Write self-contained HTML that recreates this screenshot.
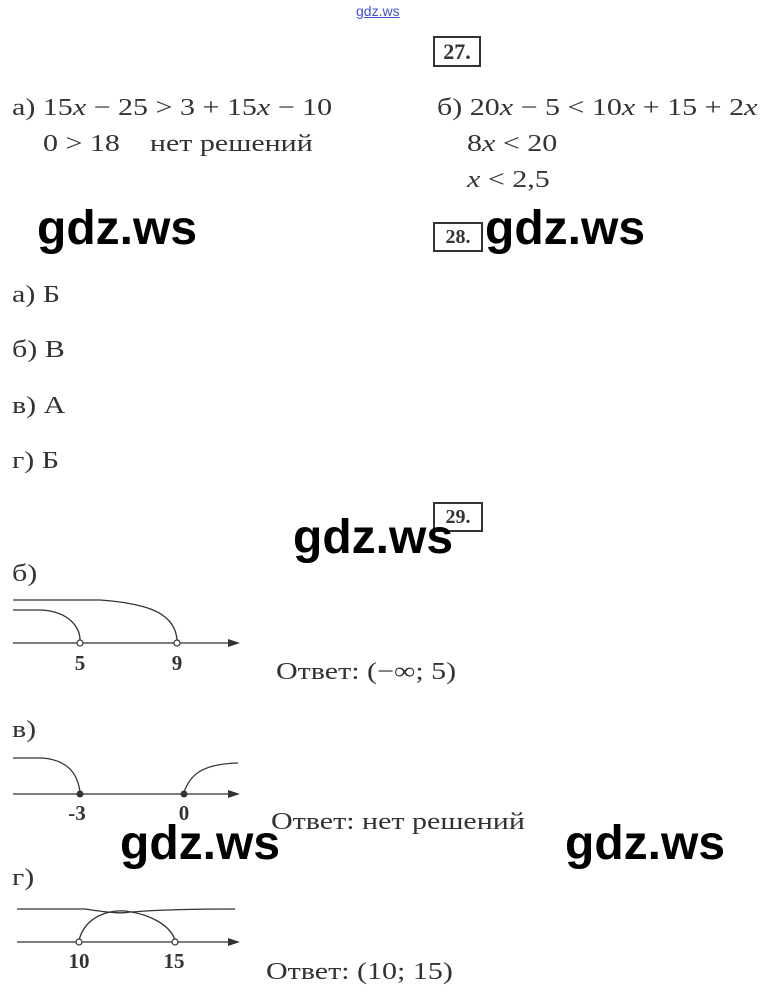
<!DOCTYPE html>
<html><head><meta charset="utf-8"><style>
body{margin:0;width:767px;height:995px;background:#fff;position:relative;overflow:hidden;font-family:"Liberation Serif",serif;color:#333}
.t{position:absolute;font-size:24px;white-space:nowrap;line-height:1;transform:scaleX(1.25);transform-origin:0 0}
.w{position:absolute;font-family:"Liberation Sans",sans-serif;font-weight:bold;font-size:48px;color:#000;line-height:1;white-space:nowrap}
.box{position:absolute;border:2px solid #333;font-weight:bold;font-size:22px;width:44px;text-align:center;line-height:27px;color:#333}
i{font-style:italic}
</style></head><body>
<div style="position:absolute;left:356px;top:3px;font-size:14px;font-family:'Liberation Sans',sans-serif;color:#4050d0;text-decoration:underline">gdz.ws</div>
<div class="box" style="left:433px;top:36px">27.</div>
<div class="t" style="left:12px;top:96px">а) 15<i>x</i> − 25 &gt; 3 + 15<i>x</i> − 10</div>
<div class="t" style="left:43px;top:132px">0 &gt; 18 &nbsp;&nbsp; нет решений</div>
<div class="t" style="left:437px;top:96px">б) 20<i>x</i> − 5 &lt; 10<i>x</i> + 15 + 2<i>x</i></div>
<div class="t" style="left:467px;top:132px">8<i>x</i> &lt; 20</div>
<div class="t" style="left:467px;top:168px"><i>x</i> &lt; 2,5</div>
<div class="w" style="left:37px;top:205px">gdz.ws</div>
<div class="box" style="left:433px;top:222px;font-size:20px;line-height:26px;width:46px">28.</div>
<div class="w" style="left:485px;top:205px">gdz.ws</div>
<div class="t" style="left:12px;top:283px">а) Б</div>
<div class="t" style="left:12px;top:338px">б) В</div>
<div class="t" style="left:12px;top:394px">в) А</div>
<div class="t" style="left:12px;top:449px">г) Б</div>
<div class="box" style="left:433px;top:502px;font-size:20px;line-height:26px;width:46px">29.</div>
<div class="w" style="left:293px;top:514px">gdz.ws</div>
<div class="t" style="left:12px;top:562px">б)</div>
<div class="t" style="left:12px;top:718px">в)</div>
<div class="t" style="left:12px;top:866px">г)</div>
<svg style="position:absolute;left:0;top:0" width="767" height="995">
<g fill="none" stroke="#333" stroke-width="1.3">
<path d="M13 643H232"/><path d="M13 600H100 C140 603 175 610 177 640"/><path d="M13 610H42 C70 612 80 628 80 640"/>
<path d="M13 794H232"/><path d="M13 758H42 C70 760 78 776 80 792"/><path d="M184 792 C190 776 200 764 238 763"/>
<path d="M17 942H232"/><path d="M17 909H85 C105 912 120 914 130 912 C140 912 150 909 235 909"/><path d="M79 940 C86 915 110 910 125 911 C150 914 170 925 175 940"/>
</g>
<g fill="#333"><path d="M240 643l-12-4v8z"/><path d="M240 794l-12-4v8z"/><path d="M240 942l-12-4v8z"/>
<circle cx="80" cy="794" r="3.5"/><circle cx="184" cy="794" r="3.5"/></g>
<g fill="#fff" stroke="#333" stroke-width="1.2"><circle cx="80" cy="643" r="3"/><circle cx="177" cy="643" r="3"/><circle cx="79" cy="942" r="3"/><circle cx="175" cy="942" r="3"/></g>
<g font-family="Liberation Serif" font-weight="bold" font-size="21" fill="#333" text-anchor="middle">
<text x="80" y="670">5</text><text x="177" y="670">9</text><text x="77" y="820">-3</text><text x="184" y="820">0</text><text x="79" y="968">10</text><text x="174" y="968">15</text></g>
</svg>
<div class="t" style="left:276px;top:660px">Ответ: (−∞; 5)</div>
<div class="t" style="left:271px;top:810px">Ответ: нет решений</div>
<div class="w" style="left:120px;top:820px">gdz.ws</div>
<div class="w" style="left:565px;top:820px">gdz.ws</div>
<div class="t" style="left:266px;top:960px">Ответ: (10; 15)</div>
</body></html>
